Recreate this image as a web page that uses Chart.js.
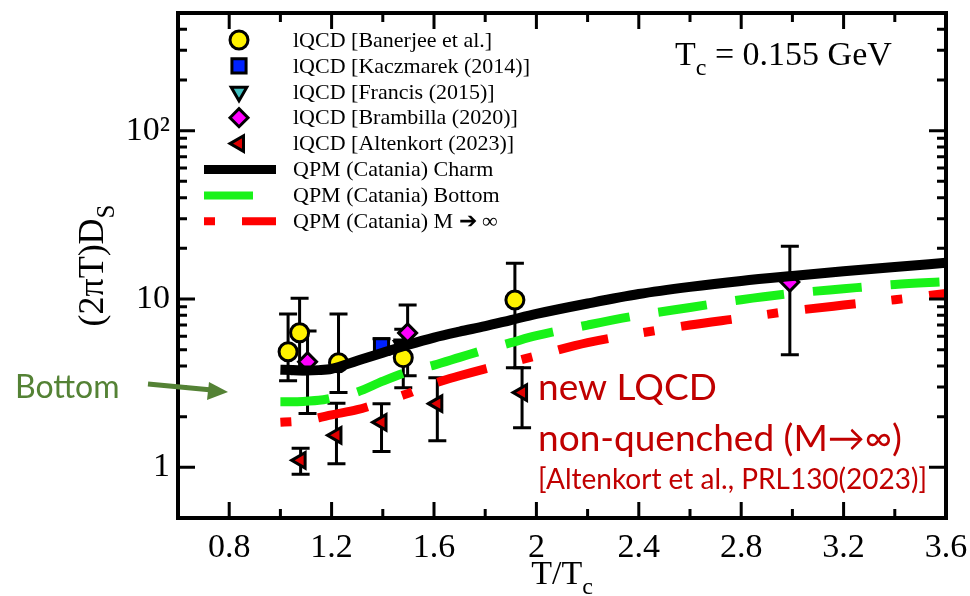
<!DOCTYPE html>
<html>
<head>
<meta charset="utf-8">
<title>Spatial diffusion coefficient</title>
<script src="https://cdn.jsdelivr.net/npm/chart.js@4.4.0/dist/chart.umd.min.js"></script>
<style>
  html, body { margin: 0; padding: 0; background: #fff; }
</style>
</head>
<body>
<canvas id="dsChart" width="970" height="596"></canvas>
<script>
// lattice points: T/Tc, (2piT)Ds and error-bar ends
const banerjeeT  = [1.03, 1.075, 1.227, 1.48, 1.916];
const banerjeeD  = [4.86, 6.3, 4.18, 4.48, 9.86];
const banerjeeLo = [3.27, 3.6, 2.78, 2.97, 3.9];
const banerjeeHi = [8.15, 10.1, 8.15, 6.6, 16.3];

const kaczmarekT  = [1.395];
const kaczmarekD  = [5.27];
const kaczmarekLo = [4.7];
const kaczmarekHi = [5.8];

const francisT  = [1.476];
const francisD  = [5.25];
const francisLo = [4.8];
const francisHi = [5.7];

const brambillaT  = [1.106, 1.497, 2.99];
const brambillaD  = [4.24, 6.29, 12.6];
const brambillaLo = [2.09, 3.5, 4.66];
const brambillaHi = [6.46, 9.2, 20.6];

const altenkortT  = [1.079, 1.219, 1.395, 1.613, 1.944];
const altenkortD  = [1.10, 1.55, 1.85, 2.39, 2.78];
const altenkortLo = [0.91, 1.05, 1.24, 1.44, 1.72];
const altenkortHi = [1.30, 2.4, 2.39, 3.41, 3.9];

// QPM (Catania) curves
const qpmT    = [1.0, 1.05, 1.1, 1.15, 1.2, 1.3, 1.4, 1.5, 1.6, 1.7, 1.8, 1.9, 2.0, 2.2, 2.4, 2.6, 2.8, 3.0, 3.2, 3.4, 3.6];
const charmD  = [3.8, 3.78, 3.76, 3.78, 3.85, 4.3, 4.8, 5.35, 5.9, 6.4, 6.9, 7.5, 8.15, 9.4, 10.7, 11.8, 12.8, 13.7, 14.6, 15.5, 16.4];
const bottomD = [2.45, 2.45, 2.47, 2.5, 2.58, 2.8, 3.25, 3.7, 4.05, 4.5, 5.0, 5.5, 6.05, 7.0, 8.0, 8.9, 9.9, 10.8, 11.5, 12.2, 12.7];
const staticD = [1.85, 1.87, 1.9, 1.97, 2.05, 2.2, 2.45, 2.75, 3.15, 3.5, 3.85, 4.2, 4.6, 5.5, 6.25, 7.0, 7.7, 8.5, 9.2, 9.9, 10.8];

// axis ticks
const xTickValues = [0.8, 1.2, 1.6, 2.0, 2.4, 2.8, 3.2, 3.6];
const xTickLabels = ['0.8', '1.2', '1.6', '2', '2.4', '2.8', '3.2', '3.6'];
const xMinorTicks = [1.0, 1.4, 1.8, 2.2, 2.6, 3.0, 3.4];
const yTickValues = [1, 10, 100];
const yTickLabels = ['1', '10', '10²'];
const yMinorTicks = [2, 3, 4, 5, 6, 7, 8, 9, 20, 30, 40, 50, 60, 70, 80, 90, 200, 300, 400];

const serif = '"Liberation Serif", "Times New Roman", serif';
const sans = 'Lato, "Open Sans", sans-serif';

const pts = (xs, ys) => xs.map((x, i) => ({ x: x, y: ys[i] }));

function lattice(label, xs, ys, lo, hi, style, fill, radius, rotation) {
    return {
        label: label,
        data: pts(xs, ys),
        errLo: lo,
        errHi: hi,
        showLine: false,
        pointStyle: style,
        pointRotation: rotation || 0,
        pointRadius: radius,
        pointBackgroundColor: fill,
        pointBorderColor: '#000',
        pointBorderWidth: 3,
        order: 2
    };
}

function curve(label, ys, color, width, dash) {
    return {
        label: label,
        data: pts(qpmT, ys),
        showLine: true,
        borderColor: color,
        borderWidth: width,
        borderDash: dash,
        borderCapStyle: 'butt',
        cubicInterpolationMode: 'monotone',
        pointRadius: 0,
        clip: 0,
        order: 1
    };
}

const datasets = [
    lattice('lQCD [Banerjee et al.]', banerjeeT, banerjeeD, banerjeeLo, banerjeeHi, 'circle', '#FFF200', 9),
    lattice('lQCD [Kaczmarek (2014)]', kaczmarekT, kaczmarekD, kaczmarekLo, kaczmarekHi, 'rect', '#0022FF', 10),
    lattice('lQCD [Francis (2015)]', francisT, francisD, francisLo, francisHi, 'triangle', '#40C0C0', 9, 180),
    lattice('lQCD [Brambilla (2020)]', brambillaT, brambillaD, brambillaLo, brambillaHi, 'rectRot', '#FF00FF', 9),
    lattice('lQCD [Altenkort (2023)]', altenkortT, altenkortD, altenkortLo, altenkortHi, 'triangle', '#E00000', 9, 270),
    curve('QPM (Catania) Charm', charmD, '#000', 10, []),
    curve('QPM (Catania) Bottom', bottomD, '#19F219', 9, [49, 29]),
    curve('QPM (Catania) M ➔ ∞', staticD, '#FF0000', 9, [11, 27, 51, 36])
];

const errorBars = {
    id: 'errorBars',
    beforeDatasetsDraw(chart) {
        const ctx = chart.ctx, xs = chart.scales.x, ys = chart.scales.y;
        ctx.save();
        ctx.strokeStyle = '#000';
        ctx.lineWidth = 3;
        chart.data.datasets.forEach(ds => {
            if (!ds.errLo) return;
            ds.data.forEach((p, i) => {
                const x = xs.getPixelForValue(p.x);
                const y1 = ys.getPixelForValue(ds.errLo[i]);
                const y2 = ys.getPixelForValue(ds.errHi[i]);
                ctx.beginPath();
                ctx.moveTo(x, y1); ctx.lineTo(x, y2);
                ctx.moveTo(x - 9, y1); ctx.lineTo(x + 9, y1);
                ctx.moveTo(x - 9, y2); ctx.lineTo(x + 9, y2);
                ctx.stroke();
            });
        });
        ctx.restore();
    }
};

// text with a subscript part
function subText(ctx, main, sub, x, y, size, align) {
    ctx.font = size + 'px ' + serif;
    const w1 = ctx.measureText(main).width;
    ctx.font = Math.round(size * 0.7) + 'px ' + serif;
    const w2 = ctx.measureText(sub).width;
    const x0 = align === 'center' ? x - (w1 + w2) / 2 : x;
    ctx.font = size + 'px ' + serif;
    ctx.fillText(main, x0, y);
    ctx.font = Math.round(size * 0.7) + 'px ' + serif;
    ctx.fillText(sub, x0 + w1, y + size * 0.3);
    return x0 + w1 + w2;
}

const frame = {
    id: 'frame',
    afterDraw(chart) {
        const ctx = chart.ctx, a = chart.chartArea;
        const xs = chart.scales.x, ys = chart.scales.y;
        ctx.save();
        ctx.strokeStyle = '#000';
        ctx.lineWidth = 3;
        ctx.beginPath();
        const tick = (vals, len) => {
            vals.forEach(v => {
                const x = xs.getPixelForValue(v);
                ctx.moveTo(x, a.bottom); ctx.lineTo(x, a.bottom - len);
                ctx.moveTo(x, a.top); ctx.lineTo(x, a.top + len);
            });
        };
        const ytick = (vals, len) => {
            vals.forEach(v => {
                const y = ys.getPixelForValue(v);
                ctx.moveTo(a.left, y); ctx.lineTo(a.left + len, y);
                ctx.moveTo(a.right, y); ctx.lineTo(a.right - len, y);
            });
        };
        tick(xTickValues, 16);
        tick(xMinorTicks, 9);
        ytick(yTickValues, 17);
        ytick(yMinorTicks, 9);
        ctx.stroke();
        ctx.lineWidth = 4;
        ctx.strokeRect(a.left, a.top, a.right - a.left, a.bottom - a.top);

        // axis titles
        ctx.fillStyle = '#000';
        ctx.textAlign = 'left';
        ctx.textBaseline = 'alphabetic';
        subText(ctx, 'T/T', 'c', (a.left + a.right) / 2, 584, 34, 'center');
        ctx.save();
        ctx.translate(103, (a.top + a.bottom) / 2);
        ctx.rotate(-Math.PI / 2);
        subText(ctx, '(2πT)D', 'S', 0, 0, 36, 'center');
        ctx.restore();

        // Tc note
        const end = subText(ctx, 'T', 'c', 675, 65, 34, 'left');
        ctx.font = '34px ' + serif;
        ctx.fillText(' = 0.155 GeV', end, 65);

        // legend
        ctx.font = '22px ' + serif;
        ctx.textBaseline = 'middle';
        chart.data.datasets.forEach((ds, i) => {
            const y = 40 + i * 25.9;
            ctx.save();
            if (ds.showLine) {
                ctx.strokeStyle = ds.borderColor;
                ctx.lineWidth = ds.borderWidth - 1;
                ctx.setLineDash(ds.borderDash);
                ctx.lineCap = 'butt';
                ctx.beginPath();
                ctx.moveTo(204, y);
                ctx.lineTo(ds.borderDash.length === 2 ? 253 : 276, y);
                ctx.stroke();
            } else {
                ctx.fillStyle = ds.pointBackgroundColor;
                ctx.strokeStyle = '#000';
                ctx.lineWidth = 3;
                Chart.helpers.drawPoint(ctx, {
                    pointStyle: ds.pointStyle,
                    radius: ds.pointRadius,
                    rotation: ds.pointRotation,
                    borderWidth: 3
                }, 239, y);
            }
            ctx.restore();
            ctx.fillStyle = '#000';
            ctx.fillText(ds.label, 293, y + 1);
        });

        // annotations
        ctx.textBaseline = 'alphabetic';
        ctx.fillStyle = '#C00000';
        ctx.font = '37px ' + sans;
        ctx.fillText('new LQCD', 538, 400);
        ctx.fillText('non-quenched (M→∞)', 538, 451);
        ctx.font = '28px ' + sans;
        ctx.fillText('[Altenkort et al., PRL130(2023)]', 538, 489);

        ctx.fillStyle = '#548235';
        ctx.font = '32px ' + sans;
        ctx.fillText('Bottom', 15, 398);
        ctx.strokeStyle = '#548235';
        ctx.lineWidth = 5;
        ctx.beginPath();
        ctx.moveTo(148, 384);
        ctx.lineTo(212, 390);
        ctx.stroke();
        ctx.beginPath();
        ctx.moveTo(228, 392);
        ctx.lineTo(209, 382);
        ctx.lineTo(207, 400);
        ctx.closePath();
        ctx.fill();
        ctx.restore();
    }
};

new Chart(document.getElementById('dsChart').getContext('2d'), {
    type: 'scatter',
    data: { datasets: datasets },
    options: {
        responsive: false,
        animation: false,
        devicePixelRatio: 1,
        layout: { padding: { top: 10, right: 24, left: 0, bottom: 0 } },
        plugins: {
            legend: { display: false },
            tooltip: { enabled: false }
        },
        scales: {
            x: {
                type: 'linear',
                min: 0.6,
                max: 3.6,
                grid: { display: false, drawTicks: false },
                border: { display: false },
                afterBuildTicks: s => { s.ticks = xTickValues.map(v => ({ value: v })); },
                afterFit: s => { s.height = 78; s.paddingLeft = 0; s.paddingRight = 0; },
                ticks: {
                    padding: 10,
                    color: '#000',
                    font: { family: serif, size: 34 },
                    maxRotation: 0,
                    autoSkip: false,
                    callback: (v) => xTickLabels[xTickValues.findIndex(t => Math.abs(t - v) < 1e-6)]
                }
            },
            y: {
                type: 'logarithmic',
                min: 0.5,
                max: 500,
                grid: { display: false, drawTicks: false },
                border: { display: false },
                afterBuildTicks: s => { s.ticks = yTickValues.map(v => ({ value: v })); },
                afterFit: s => { s.width = 178; s.paddingTop = 0; s.paddingBottom = 0; },
                ticks: {
                    padding: 8,
                    color: '#000',
                    font: { family: serif, size: 34 },
                    autoSkip: false,
                    callback: (v) => yTickLabels[yTickValues.indexOf(v)]
                }
            }
        }
    },
    plugins: [errorBars, frame]
});
</script>
</body>
</html>
